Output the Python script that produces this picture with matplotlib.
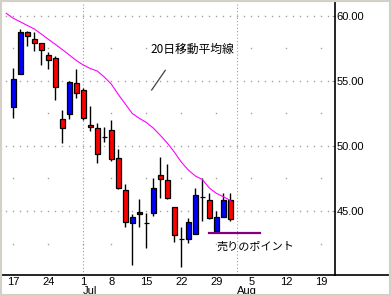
import numpy as np
import pandas as pd
import matplotlib
matplotlib.use("Agg")
import matplotlib.pyplot as plt
from matplotlib.patches import Rectangle
from matplotlib.lines import Line2D

# trading calendar (Jun 14 .. Aug 23, Jul 4 closed)
days = pd.bdate_range("2002-06-14", "2002-08-23")
days = days[days != pd.Timestamp("2002-07-04")]

# 20-day moving average, Jun 14 .. Jul 31
ma20 = [60.18, 59.80, 59.53, 59.25, 58.98, 58.59, 58.19, 57.80, 57.40, 56.98,
        56.56, 56.21, 55.94, 55.75, 55.29, 54.75, 53.95, 53.22, 52.49, 52.12,
        51.80, 51.37, 50.81, 50.22, 49.53, 48.76, 48.15, 47.69, 47.42, 46.77,
        46.36, 46.10, 45.81]

# daily candles, Jun 17 .. Jul 31
opens = [53.01, 55.50, 58.73, 58.19, 57.88, 56.98, 56.73, 52.04, 52.47, 54.81,
         54.27, 51.58, 51.35, 50.71, 51.20, 49.05, 46.59, 44.06, 44.75, 44.06,
         44.82, 47.76, 47.38, 45.28, 42.85, 42.83, 43.23, 46.08, 45.82, 43.44,
         44.52, 45.82]
highs = [55.96, 58.96, 58.85, 58.77, 57.90, 57.19, 56.93, 52.76, 54.98, 55.88,
         54.45, 53.06, 51.74, 51.43, 51.99, 49.74, 47.07, 44.77, 45.92, 44.85,
         47.51, 49.17, 48.59, 45.30, 43.79, 44.46, 46.74, 47.51, 46.41, 45.00,
         46.36, 46.41]
lows = [52.17, 55.50, 57.70, 57.31, 56.24, 55.93, 53.50, 50.20, 52.09, 53.70,
        51.99, 51.17, 48.66, 50.32, 48.86, 46.67, 43.79, 40.85, 43.79, 42.14,
        44.62, 45.98, 45.90, 42.64, 40.72, 42.52, 43.20, 44.26, 44.36, 43.44,
        44.50, 44.26]
closes = [55.12, 58.73, 58.42, 57.88, 57.34, 56.57, 54.50, 51.35, 54.88, 54.04,
          52.12, 51.47, 49.35, 50.71, 49.02, 46.74, 44.18, 44.52, 44.90, 44.06,
          46.74, 47.43, 45.98, 43.13, 42.85, 44.16, 46.21, 46.08, 44.49, 44.52,
          45.82, 44.36]

sell_level = 43.33
ytick_vals = [45, 50, 55, 60]
minor_levels = [42.5, 47.5, 52.5, 57.5]

cjk = ["Noto Sans CJK JP", "DejaVu Sans"]
plt.rcParams["font.family"] = ["Liberation Sans", "DejaVu Sans"]

W, H = 391, 296
fig = plt.figure(figsize=(W / 100, H / 100), dpi=100, facecolor="white")

ax_bottom = 274.5
ax = fig.add_axes([2 / W, (H - ax_bottom) / H, 333 / W, (ax_bottom - 2) / H])
ax.set_facecolor("white")

x_all = np.arange(len(days))
x_c = np.arange(1, 1 + len(opens))

# grid dots
mondays = [i for i, d in enumerate(days) if d.weekday() == 0]
for lv in ytick_vals:
    ax.plot(x_all, [lv] * len(x_all), ls="none", marker="s", ms=1.0, mew=0,
            color="#a0a0a0", zorder=1)
for lv in minor_levels:
    ax.plot(mondays, [lv] * len(mondays), ls="none", marker="s", ms=1.0, mew=0,
            color="#a0a0a0", zorder=1)
month_starts = [i for i in range(1, len(days)) if days[i].month != days[i - 1].month]
for m in month_starts:
    ax.axvline(m, color="#a0a0a0", lw=0.8, ls=(0, (1, 2)), zorder=1)

# candles
o, c = np.array(opens), np.array(closes)
colors = ["#0000ff" if cc > oo else "#ff0000" for oo, cc in zip(o, c)]
ax.vlines(x_c, lows, highs, color="black", lw=1.0, zorder=2)
ax.bar(x_c, c - o, bottom=o, width=0.68, color=colors, edgecolor="black",
       linewidth=0.9, zorder=3)

# moving average
ax.plot(np.arange(len(ma20)), ma20, color="#ff00ff", lw=0.8, zorder=4)

# annotations
ax.text(20.63, 57.42, "20日移動平均線", family=cjk, fontsize=8.5, ha="left", va="center")
ax.plot([20.77, 22.71], [54.29, 55.80], color="#404040", lw=0.9)
ax.plot([29, 36.24], [sell_level, sell_level], color="#800080", lw=1.6, zorder=5)
ax.text(30.06, 42.26, "売りのポイント", family=cjk, fontsize=8, ha="left", va="center")

ax.set_xlim(-0.61, 46.96)
ax.set_ylim(40.12, 61.05)

for s in ["left", "top"]:
    ax.spines[s].set_visible(False)
for s in ["right", "bottom"]:
    ax.spines[s].set_linewidth(1.2)
    ax.spines[s].set_color("black")

ax.yaxis.tick_right()
ax.set_yticks(ytick_vals)
ax.set_yticklabels([f"{v:.2f}" for v in ytick_vals])
ax.tick_params(axis="y", direction="in", length=2.5, color="#a0a0a0", pad=1,
               labelsize=8)
ax.set_xticks(mondays)
ax.set_xticklabels([str(days[i].day) for i in mondays])
ax.tick_params(axis="x", length=0, pad=1.5, labelsize=8)

for m in month_starts:
    ax.annotate(days[m].strftime("%b"), xy=(m, 0), xycoords=("data", "axes fraction"),
                xytext=(0, -8), textcoords="offset points", ha="left", va="top",
                fontsize=8)

# bottom axis line continues under the price scale
fig.add_artist(Line2D([335 / W, 389 / W], [(H - ax_bottom) / H] * 2,
                      transform=fig.transFigure, color="black", lw=1.2))
# window frame
fig.add_artist(Rectangle((0, 0), 1, 1, transform=fig.transFigure, facecolor="none",
                         edgecolor="#d4d0c8", lw=3.0, zorder=10))

fig.savefig("out.png", dpi=100, facecolor=fig.get_facecolor())
